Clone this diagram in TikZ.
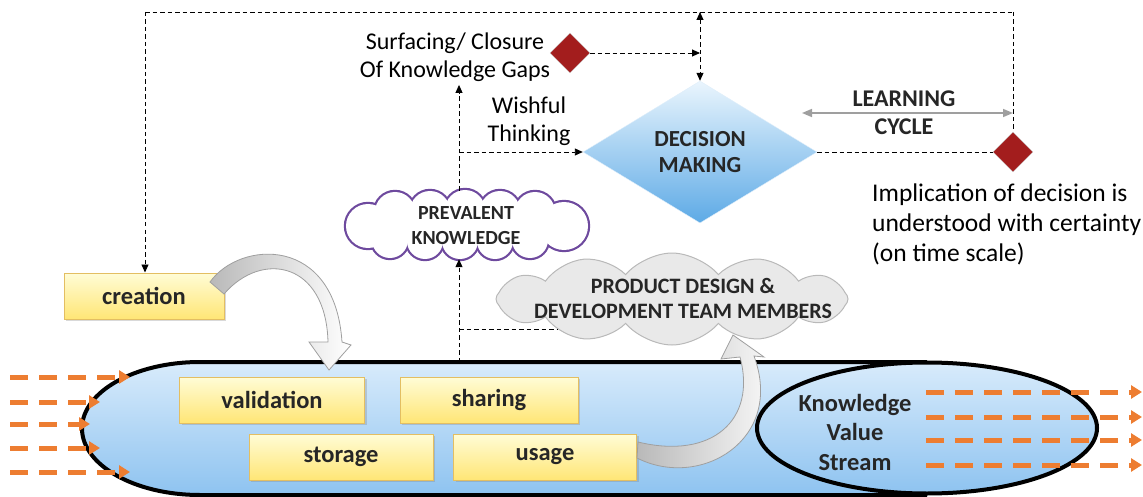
\documentclass[tikz,border=0pt]{standalone}
\usepackage{fontspec}
\setmainfont{Carlito}
\usetikzlibrary{shapes.geometric,shapes.symbols,arrows.meta,shadows}
\definecolor{ored}{HTML}{ED7D31}
\definecolor{dred}{HTML}{A31D1D}
\definecolor{purp}{HTML}{6E4A9E}
\definecolor{btop}{HTML}{D8EBFB}
\definecolor{bbot}{HTML}{8EC3F0}
\definecolor{dtop}{HTML}{EAF5FD}
\definecolor{dbot}{HTML}{5DAAE6}
\definecolor{ytop}{HTML}{FFFCD6}
\definecolor{ybot}{HTML}{FFE676}
\definecolor{ydraw}{HTML}{E3BE62}
\begin{document}
\begin{tikzpicture}[x=1pt,y=-1pt,
  reg/.style={font=\fontsize{24}{28}\selectfont},
  bld/.style={font=\fontsize{24.5}{29.5}\selectfont\bfseries, text=black!85},
  ybox/.style={rectangle, draw=ydraw, line width=1pt, top color=ytop, bottom color=ybot,
    font=\fontsize{24.5}{28}\selectfont\bfseries, text=black!85, minimum height=46pt,
    drop shadow={shadow xshift=2pt, shadow yshift=-2pt, opacity=0.3}},
  dl/.style={black, line width=0.9pt, dash pattern=on 4.5pt off 3pt},
  tip/.style={-{Triangle[length=8pt,width=7pt]}},
  rdia/.style={diamond, minimum width=40pt, minimum height=40pt, inner sep=0pt, fill=dred, draw=gray!40},
  oarr/.style={draw=ored, line width=5pt, dash pattern=on 18pt off 11pt, -{Triangle[length=11pt,width=13pt]}},
  barr/.style={draw=gray!75, line width=0.8pt, left color=gray!55, right color=white}
]
\useasboundingbox (0,0) rectangle (1143,497);

% big knowledge stream shape
\path[top color=btop, bottom color=bbot] (927,362) -- (200,362) arc[start angle=90, end angle=270, x radius=118pt, y radius=66.5pt] -- (927,495) arc[start angle=-90, end angle=90, x radius=170pt, y radius=66.5pt] -- cycle;
\draw[line width=4pt] (927,362) -- (200,362) arc[start angle=90, end angle=270, x radius=118pt, y radius=66.5pt] -- (927,495);
\node[ellipse, minimum width=340pt, minimum height=131pt, draw, line width=4pt, top color=btop, bottom color=bbot] (kvs) at (927,428) {};
\node[bld, align=center] (kvst) at (855,432) {Knowledge\\Value\\Stream};

% boxes
\node[ybox, minimum width=160pt] (creation) at (144,296) {creation};
\node[ybox, minimum width=185pt] (validation) at (272,400) {validation};
\node[ybox, minimum width=178pt] (sharing) at (489,400) {sharing};
\node[ybox, minimum width=184pt] (storage) at (341,457) {storage};
\node[ybox, minimum width=183pt] (usage) at (545,457) {usage};

% decision
\node[diamond, minimum width=234pt, minimum height=142pt, inner sep=0pt, top color=dtop, bottom color=dbot, draw=white!80!dbot, align=center, font=\fontsize{23}{26}\selectfont\bfseries, text=black!85] (decision) at (700,152) {DECISION\\MAKING};
\node[rdia] (rd1) at (570,53) {};
\node[rdia] (rd2) at (1013,152) {};

% prevalent knowledge cloud (union of puffs)
\node[ellipse, minimum width=243pt, minimum height=68pt, inner sep=0pt] (pk) at (466,225) {};
\def\puffs{368/226/22, 395/212/20, 430/211/20, 465/210/20, 500/211/20, 535/212/20, 390/240/18, 425/241/18, 460/241/18, 495/241/18, 530/240/18, 564/226/24}
\foreach \cx/\cy/\r in \puffs { \draw[purp, line width=4.4pt] (\cx,\cy) circle[radius=\r pt]; }
\foreach \cx/\cy/\r in \puffs { \fill[white] (\cx,\cy) circle[radius=\r pt]; }
\fill[white] (466,226) ellipse[x radius=90pt, y radius=16pt];
\node[font=\fontsize{20}{25}\selectfont\bfseries, align=center, text=black!85] (pkt) at (466,225.5) {PREVALENT\\KNOWLEDGE};

% product team cloud
\node[cloud, cloud puffs=12, cloud puff arc=100, cloud ignores aspect, minimum width=352pt, minimum height=92pt, draw=gray!55, fill=gray!17, line width=1pt] (gc) at (672,299) {};
\node[font=\fontsize{22}{25}\selectfont\bfseries, align=center, text=black!85] (gct) at (683,298) {PRODUCT DESIGN \&\\DEVELOPMENT TEAM MEMBERS};

% texts
\node[reg, align=center] (surf) at (455,57) {Surfacing/ Closure\\Of Knowledge Gaps};
\node[reg, align=center] (wish) at (529,121) {Wishful\\Thinking};
\node[font=\fontsize{25.5}{30}\selectfont, align=left, anchor=north west, inner sep=0pt] (impl) at (872,184) {Implication of decision is\\understood with certainty\\(on time scale)};
\node[font=\fontsize{24}{28}\selectfont\bfseries, align=center, text=black!85] (lc) at (904,113) {LEARNING\\CYCLE};

% dashed connectors
\coordinate (tl) at (145,12);
\coordinate (tr) at (1013,12);
\coordinate (vx) at (459,0);
\draw[dl] (tl) -- (tr);
\draw[dl,tip] (tl) -- (creation.north -| tl);
\draw[dl] (tr) -- (rd2.north);
\draw[dl,{Triangle[length=8pt,width=7pt]}-{Triangle[length=8pt,width=7pt]}] (decision.north |- tl) -- (decision.north);
\draw[dl,tip] (rd1.east) -- (rd1.east -| decision.north);
\draw[dl] (decision.east) -- (rd2.west);
\draw[dl,tip] (pk.north -| vx) -- (surf.south -| vx);
\draw[dl,tip] (decision.west -| vx) -- (decision.west);
\coordinate (bt) at (459,362);
\draw[dl,tip] (bt) -- (pk.south -| vx);
\draw[dl] (vx |- gc.195) -- (gc.195);

% learning cycle
\coordinate (lcl) at (802,113);
\draw[gray!75, line width=1.6pt, {Triangle[length=10pt,width=8pt]}-{Triangle[length=10pt,width=8pt]}] (lcl) -- (lcl -| rd2);

% curved block arrows
\path[barr] (210,282) .. controls (240,240) and (335,235) .. (342,342) -- (351,345) -- (329,370) -- (309,342) -- (328,342) .. controls (326,262) and (262,250) .. (224,294) -- cycle;
\path[barr] (637,458) .. controls (700,490) and (785,440) .. (754,356) -- (764,357) -- (733,335) -- (721,359) -- (740,357) .. controls (757,420) and (712,460) .. (638,442) -- cycle;

% orange flows
\foreach \i/\y/\e in {1/377/130, 2/402/100, 3/424/90, 4/448/100, 5/472/130} {
  \coordinate (ls\i) at (10,\y);
  \coordinate (le\i) at (\e,\y);
  \draw[oarr] (ls\i) -- (le\i);
}
\foreach \i/\y in {1/392, 2/417, 3/440, 4/465} {
  \coordinate (rs\i) at (926,\y);
  \coordinate (re\i) at (1142,\y);
  \draw[oarr] (rs\i) -- (re\i);
}
\end{tikzpicture}
\end{document}
